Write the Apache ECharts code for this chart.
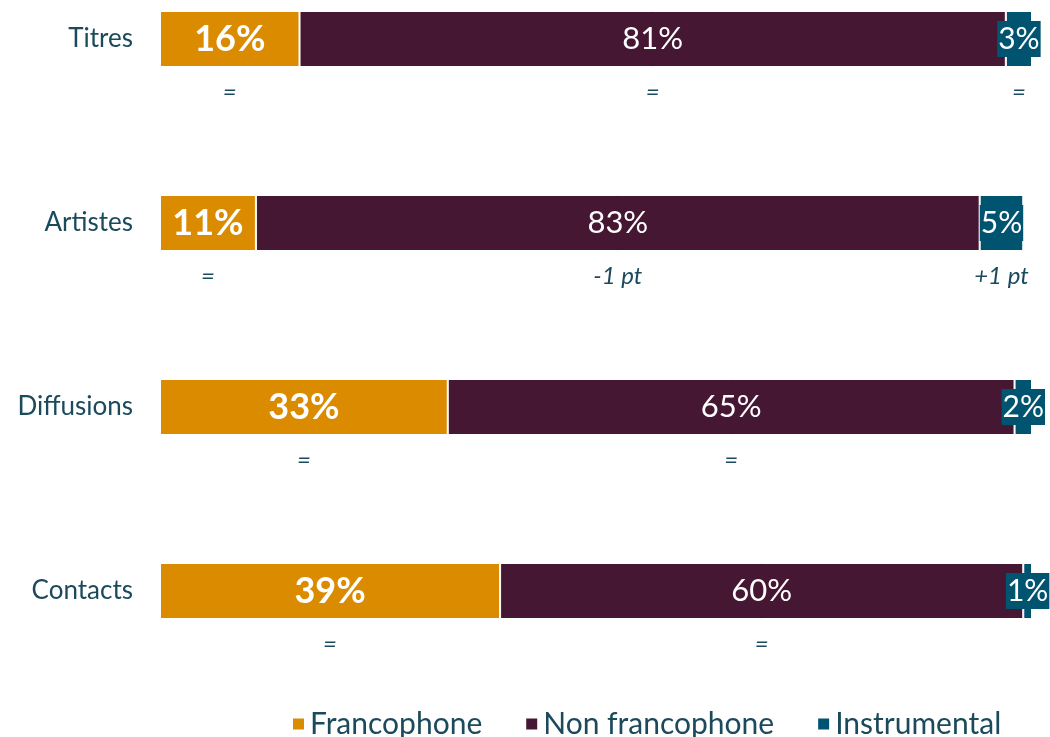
<!DOCTYPE html>
<html>
<head>
<meta charset="utf-8">
<script src="https://cdn.jsdelivr.net/npm/echarts@6/dist/echarts.min.js"></script>
<style>
  html, body { margin: 0; padding: 0; background: #fff; }
  #chart { width: 1050px; height: 737px; }
</style>
</head>
<body>
<div id="chart"></div>
<script>
// categories (top to bottom)
const categories = ['Titres', 'Artistes', 'Diffusions', 'Contacts']
// shares in %
const francophone = [16, 11, 33, 39]
const nonFrancophone = [81, 83, 65, 60]
const instrumental = [3, 5, 2, 1]
// evolution notes shown under each segment
const francoChange = ['=', '=', '=', '=']
const nonFrancoChange = ['=', '-1 pt', '=', '=']
const instruChange = ['=', '+1 pt', '', '']

const FONT = 'Lato'
const TEXT = '#1b4a5c'

const chart = echarts.init(document.getElementById('chart'))

// label = blank line / value / note, so the value stays centred on the bar
// valueH is the height of the value line, outer lines put the note ~53px below centre
const makeLabel = (notes, valueStyle, valueH) => {
  const outer = 106 - valueH
  return {
    show: true,
    position: 'inside',
    formatter: p => '{b| }\n{v|' + p.value + '%}\n{a|' + (notes[p.dataIndex] || ' ') + '}',
    rich: {
      b: { lineHeight: outer, fontSize: 10 },
      v: Object.assign({ color: '#fff', fontFamily: FONT }, valueStyle),
      a: { lineHeight: outer, fontSize: 24, fontStyle: 'italic', color: TEXT, fontFamily: FONT }
    }
  }
}

chart.setOption({
  animation: false,
  textStyle: { fontFamily: FONT },
  grid: {
    left: 160, right: 18, top: -53, height: 736,
    containLabel: false, outerBoundsMode: 'none'
  },
  xAxis: {
    type: 'value', min: 0, max: 100, show: false
  },
  yAxis: {
    type: 'category',
    data: categories,
    inverse: true,
    axisLine: { show: false },
    axisTick: { show: false },
    axisLabel: { margin: 27, fontSize: 26, color: TEXT, fontFamily: FONT }
  },
  legend: {
    top: 704,
    left: 286,
    icon: 'rect',
    itemWidth: 13,
    itemHeight: 13,
    itemGap: 42,
    textStyle: { fontSize: 30, color: TEXT, fontFamily: FONT },
    data: ['Francophone', 'Non francophone', 'Instrumental']
  },
  series: [
    {
      name: 'Francophone', type: 'bar', stack: 'total', barWidth: 56,
      itemStyle: { color: '#db8b00', borderColor: '#fff', borderWidth: 1 },
      label: makeLabel(francoChange, { fontSize: 36, fontWeight: 'bold', lineHeight: 56 }, 56),
      data: francophone
    },
    {
      name: 'Non francophone', type: 'bar', stack: 'total', barWidth: 56,
      itemStyle: { color: '#461733', borderColor: '#fff', borderWidth: 1 },
      label: makeLabel(nonFrancoChange, { fontSize: 31, lineHeight: 56 }, 56),
      data: nonFrancophone
    },
    {
      name: 'Instrumental', type: 'bar', stack: 'total', barWidth: 56,
      itemStyle: { color: '#005470', borderColor: '#fff', borderWidth: 1 },
      label: makeLabel(instruChange, {
        fontSize: 30, backgroundColor: '#005470', padding: [3, 1], lineHeight: 33
      }, 33),
      data: instrumental
    }
  ]
})
</script>
</body>
</html>
